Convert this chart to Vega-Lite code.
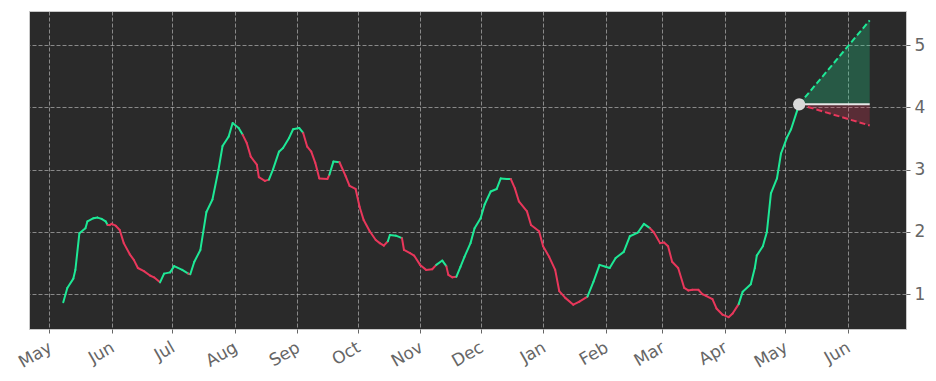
{
  "$schema": "https://vega.github.io/schema/vega-lite/v6.json",
  "width": 877,
  "height": 318,
  "autosize": {"type": "none"},
  "padding": {"left": 29, "top": 11, "right": 30, "bottom": 52},
  "background": "#ffffff",
  "config": {
    "view": {"fill": "#2a2a2a", "stroke": "#c8c8c8", "strokeWidth": 1},
    "axis": {
      "domain": false,
      "grid": true,
      "gridColor": "#c0c0c0",
      "gridDash": [4, 2],
      "gridWidth": 0.8,
      "gridOpacity": 0.8,
      "tickColor": "#666666",
      "tickSize": 4,
      "labelColor": "#666666",
      "labelFont": "DejaVu Sans",
      "labelFontSize": 17,
      "labelOverlap": false,
      "labelBound": false,
      "title": null
    }
  },
  "datasets": {
    "hist": [
      {"d": "2022-05-08", "v": 0.87, "t": "up"},
      {"d": "2022-05-10", "v": 1.10, "t": "up"},
      {"d": "2022-05-13", "v": 1.25, "t": "up"},
      {"d": "2022-05-14", "v": 1.39, "t": "up"},
      {"d": "2022-05-16", "v": 1.98, "t": "up"},
      {"d": "2022-05-19", "v": 2.06, "t": "up"},
      {"d": "2022-05-20", "v": 2.17, "t": "up"},
      {"d": "2022-05-23", "v": 2.22, "t": "up"},
      {"d": "2022-05-25", "v": 2.23, "t": "up"},
      {"d": "2022-05-27", "v": 2.21, "t": "up"},
      {"d": "2022-05-29", "v": 2.17, "t": "up"},
      {"d": "2022-05-30", "v": 2.11, "t": "up"},
      {"d": "2022-05-31", "v": 2.11, "t": "down"},
      {"d": "2022-06-01", "v": 2.13, "t": "down"},
      {"d": "2022-06-03", "v": 2.10, "t": "down"},
      {"d": "2022-06-05", "v": 2.03, "t": "down"},
      {"d": "2022-06-07", "v": 1.82, "t": "down"},
      {"d": "2022-06-10", "v": 1.64, "t": "down"},
      {"d": "2022-06-12", "v": 1.55, "t": "down"},
      {"d": "2022-06-14", "v": 1.42, "t": "down"},
      {"d": "2022-06-17", "v": 1.37, "t": "down"},
      {"d": "2022-06-20", "v": 1.30, "t": "down"},
      {"d": "2022-06-22", "v": 1.27, "t": "down"},
      {"d": "2022-06-25", "v": 1.19, "t": "down"},
      {"d": "2022-06-27", "v": 1.33, "t": "up"},
      {"d": "2022-06-30", "v": 1.35, "t": "up"},
      {"d": "2022-07-02", "v": 1.45, "t": "up"},
      {"d": "2022-07-06", "v": 1.39, "t": "up"},
      {"d": "2022-07-09", "v": 1.33, "t": "up"},
      {"d": "2022-07-10", "v": 1.32, "t": "down"},
      {"d": "2022-07-12", "v": 1.52, "t": "up"},
      {"d": "2022-07-15", "v": 1.71, "t": "up"},
      {"d": "2022-07-18", "v": 2.32, "t": "up"},
      {"d": "2022-07-21", "v": 2.52, "t": "up"},
      {"d": "2022-07-24", "v": 3.00, "t": "up"},
      {"d": "2022-07-26", "v": 3.38, "t": "up"},
      {"d": "2022-07-29", "v": 3.53, "t": "up"},
      {"d": "2022-07-31", "v": 3.75, "t": "up"},
      {"d": "2022-08-03", "v": 3.67, "t": "up"},
      {"d": "2022-08-05", "v": 3.56, "t": "up"},
      {"d": "2022-08-07", "v": 3.43, "t": "down"},
      {"d": "2022-08-09", "v": 3.21, "t": "down"},
      {"d": "2022-08-12", "v": 3.08, "t": "down"},
      {"d": "2022-08-13", "v": 2.88, "t": "down"},
      {"d": "2022-08-16", "v": 2.82, "t": "down"},
      {"d": "2022-08-18", "v": 2.84, "t": "down"},
      {"d": "2022-08-20", "v": 3.00, "t": "up"},
      {"d": "2022-08-23", "v": 3.29, "t": "up"},
      {"d": "2022-08-25", "v": 3.35, "t": "up"},
      {"d": "2022-08-28", "v": 3.51, "t": "up"},
      {"d": "2022-08-30", "v": 3.65, "t": "up"},
      {"d": "2022-09-02", "v": 3.67, "t": "up"},
      {"d": "2022-09-04", "v": 3.59, "t": "up"},
      {"d": "2022-09-06", "v": 3.37, "t": "down"},
      {"d": "2022-09-08", "v": 3.29, "t": "down"},
      {"d": "2022-09-10", "v": 3.11, "t": "down"},
      {"d": "2022-09-12", "v": 2.86, "t": "down"},
      {"d": "2022-09-16", "v": 2.85, "t": "down"},
      {"d": "2022-09-17", "v": 2.92, "t": "down"},
      {"d": "2022-09-19", "v": 3.13, "t": "up"},
      {"d": "2022-09-22", "v": 3.12, "t": "up"},
      {"d": "2022-09-25", "v": 2.90, "t": "down"},
      {"d": "2022-09-27", "v": 2.74, "t": "down"},
      {"d": "2022-09-30", "v": 2.69, "t": "down"},
      {"d": "2022-10-02", "v": 2.40, "t": "down"},
      {"d": "2022-10-04", "v": 2.19, "t": "down"},
      {"d": "2022-10-07", "v": 2.01, "t": "down"},
      {"d": "2022-10-10", "v": 1.87, "t": "down"},
      {"d": "2022-10-12", "v": 1.82, "t": "down"},
      {"d": "2022-10-14", "v": 1.78, "t": "down"},
      {"d": "2022-10-16", "v": 1.85, "t": "down"},
      {"d": "2022-10-17", "v": 1.95, "t": "up"},
      {"d": "2022-10-20", "v": 1.94, "t": "up"},
      {"d": "2022-10-23", "v": 1.90, "t": "up"},
      {"d": "2022-10-24", "v": 1.71, "t": "down"},
      {"d": "2022-10-27", "v": 1.66, "t": "down"},
      {"d": "2022-10-29", "v": 1.62, "t": "down"},
      {"d": "2022-11-01", "v": 1.47, "t": "down"},
      {"d": "2022-11-04", "v": 1.39, "t": "down"},
      {"d": "2022-11-07", "v": 1.40, "t": "down"},
      {"d": "2022-11-09", "v": 1.47, "t": "down"},
      {"d": "2022-11-12", "v": 1.54, "t": "up"},
      {"d": "2022-11-14", "v": 1.45, "t": "up"},
      {"d": "2022-11-15", "v": 1.31, "t": "down"},
      {"d": "2022-11-17", "v": 1.27, "t": "down"},
      {"d": "2022-11-19", "v": 1.28, "t": "down"},
      {"d": "2022-11-21", "v": 1.44, "t": "up"},
      {"d": "2022-11-23", "v": 1.60, "t": "up"},
      {"d": "2022-11-26", "v": 1.82, "t": "up"},
      {"d": "2022-11-28", "v": 2.06, "t": "up"},
      {"d": "2022-12-01", "v": 2.22, "t": "up"},
      {"d": "2022-12-03", "v": 2.44, "t": "up"},
      {"d": "2022-12-06", "v": 2.65, "t": "up"},
      {"d": "2022-12-09", "v": 2.69, "t": "up"},
      {"d": "2022-12-11", "v": 2.86, "t": "up"},
      {"d": "2022-12-14", "v": 2.85, "t": "up"},
      {"d": "2022-12-16", "v": 2.85, "t": "up"},
      {"d": "2022-12-18", "v": 2.70, "t": "down"},
      {"d": "2022-12-20", "v": 2.49, "t": "down"},
      {"d": "2022-12-24", "v": 2.33, "t": "down"},
      {"d": "2022-12-26", "v": 2.11, "t": "down"},
      {"d": "2022-12-30", "v": 2.01, "t": "down"},
      {"d": "2023-01-01", "v": 1.77, "t": "down"},
      {"d": "2023-01-04", "v": 1.60, "t": "down"},
      {"d": "2023-01-07", "v": 1.39, "t": "down"},
      {"d": "2023-01-09", "v": 1.05, "t": "down"},
      {"d": "2023-01-12", "v": 0.94, "t": "down"},
      {"d": "2023-01-16", "v": 0.83, "t": "down"},
      {"d": "2023-01-19", "v": 0.88, "t": "down"},
      {"d": "2023-01-23", "v": 0.96, "t": "down"},
      {"d": "2023-01-26", "v": 1.20, "t": "up"},
      {"d": "2023-01-29", "v": 1.47, "t": "up"},
      {"d": "2023-02-01", "v": 1.44, "t": "up"},
      {"d": "2023-02-03", "v": 1.42, "t": "up"},
      {"d": "2023-02-06", "v": 1.58, "t": "up"},
      {"d": "2023-02-10", "v": 1.68, "t": "up"},
      {"d": "2023-02-13", "v": 1.93, "t": "up"},
      {"d": "2023-02-17", "v": 1.99, "t": "up"},
      {"d": "2023-02-20", "v": 2.13, "t": "up"},
      {"d": "2023-02-23", "v": 2.06, "t": "up"},
      {"d": "2023-02-25", "v": 1.99, "t": "down"},
      {"d": "2023-02-28", "v": 1.82, "t": "down"},
      {"d": "2023-03-02", "v": 1.83, "t": "down"},
      {"d": "2023-03-04", "v": 1.77, "t": "down"},
      {"d": "2023-03-06", "v": 1.52, "t": "down"},
      {"d": "2023-03-09", "v": 1.42, "t": "down"},
      {"d": "2023-03-12", "v": 1.10, "t": "down"},
      {"d": "2023-03-14", "v": 1.06, "t": "down"},
      {"d": "2023-03-16", "v": 1.07, "t": "down"},
      {"d": "2023-03-19", "v": 1.07, "t": "down"},
      {"d": "2023-03-21", "v": 1.00, "t": "down"},
      {"d": "2023-03-23", "v": 0.97, "t": "down"},
      {"d": "2023-03-26", "v": 0.92, "t": "down"},
      {"d": "2023-03-28", "v": 0.77, "t": "down"},
      {"d": "2023-03-31", "v": 0.67, "t": "down"},
      {"d": "2023-04-03", "v": 0.63, "t": "down"},
      {"d": "2023-04-05", "v": 0.69, "t": "down"},
      {"d": "2023-04-08", "v": 0.84, "t": "down"},
      {"d": "2023-04-10", "v": 1.04, "t": "up"},
      {"d": "2023-04-14", "v": 1.16, "t": "up"},
      {"d": "2023-04-16", "v": 1.42, "t": "up"},
      {"d": "2023-04-17", "v": 1.62, "t": "up"},
      {"d": "2023-04-20", "v": 1.77, "t": "up"},
      {"d": "2023-04-22", "v": 2.00, "t": "up"},
      {"d": "2023-04-24", "v": 2.62, "t": "up"},
      {"d": "2023-04-27", "v": 2.86, "t": "up"},
      {"d": "2023-04-29", "v": 3.26, "t": "up"},
      {"d": "2023-05-02", "v": 3.52, "t": "up"},
      {"d": "2023-05-04", "v": 3.65, "t": "up"},
      {"d": "2023-05-07", "v": 3.95, "t": "up"},
      {"d": "2023-05-08", "v": 4.05, "t": "up"}
    ],
    "fc": [
      {"d": "2023-05-08", "base": 4.05, "hi": 4.05, "lo": 4.05},
      {"d": "2023-06-12", "base": 4.05, "hi": 5.40, "lo": 3.71}
    ],
    "last": [
      {"d": "2023-05-08", "v": 4.05}
    ]
  },
  "layer": [
    {
      "data": {"name": "hist", "format": {"parse": {"d": "date"}}},
      "transform": [
        {"window": [{"op": "lag", "field": "d", "as": "pd"}, {"op": "lag", "field": "v", "as": "pv"}], "sort": [{"field": "d"}]},
        {"filter": "datum.pv != null"}
      ],
      "mark": {"type": "rule", "strokeWidth": 2, "strokeCap": "round"},
      "encoding": {
        "x": {
          "field": "pd", "type": "temporal",
          "scale": {"type": "utc", "domain": [{"year": 2022, "month": 4, "date": 21, "utc": true}, {"year": 2023, "month": 6, "date": 30, "utc": true}]},
          "axis": {
            "values": [
              {"year": 2022, "month": 5, "date": 1, "utc": true},
              {"year": 2022, "month": 6, "date": 1, "utc": true},
              {"year": 2022, "month": 7, "date": 1, "utc": true},
              {"year": 2022, "month": 8, "date": 1, "utc": true},
              {"year": 2022, "month": 9, "date": 1, "utc": true},
              {"year": 2022, "month": 10, "date": 1, "utc": true},
              {"year": 2022, "month": 11, "date": 1, "utc": true},
              {"year": 2022, "month": 12, "date": 1, "utc": true},
              {"year": 2023, "month": 1, "date": 1, "utc": true},
              {"year": 2023, "month": 2, "date": 1, "utc": true},
              {"year": 2023, "month": 3, "date": 1, "utc": true},
              {"year": 2023, "month": 4, "date": 1, "utc": true},
              {"year": 2023, "month": 5, "date": 1, "utc": true},
              {"year": 2023, "month": 6, "date": 1, "utc": true}
            ],
            "labelExpr": "utcFormat(datum.value, '%b')",
            "labelAngle": -30,
            "labelAlign": "right",
            "labelBaseline": "top",
            "labelFontSize": 17,
            "labelPadding": 6,
            "labelOffset": -3
          }
        },
        "x2": {"field": "d"},
        "y": {
          "field": "pv", "type": "quantitative",
          "scale": {"domain": [0.44, 5.55], "nice": false, "zero": false},
          "axis": {"orient": "right", "values": [1, 2, 3, 4, 5], "format": "d", "labelFontSize": 17, "labelPadding": 4}
        },
        "y2": {"field": "v"},
        "color": {
          "field": "t", "type": "nominal",
          "scale": {"domain": ["up", "down"], "range": ["#1ee896", "#e8375b"]},
          "legend": null
        }
      }
    },
    {
      "data": {"name": "fc"},
      "mark": {"type": "area", "color": "#1ee896", "opacity": 0.25},
      "encoding": {
        "x": {"field": "d", "type": "temporal"},
        "y": {"field": "base", "type": "quantitative"},
        "y2": {"field": "hi"}
      }
    },
    {
      "data": {"name": "fc"},
      "mark": {"type": "area", "color": "#e8375b", "opacity": 0.25},
      "encoding": {
        "x": {"field": "d", "type": "temporal"},
        "y": {"field": "base", "type": "quantitative"},
        "y2": {"field": "lo"}
      }
    },
    {
      "data": {"name": "fc"},
      "mark": {"type": "line", "color": "#e6e6e6", "strokeWidth": 2},
      "encoding": {
        "x": {"field": "d", "type": "temporal"},
        "y": {"field": "base", "type": "quantitative"}
      }
    },
    {
      "data": {"name": "fc"},
      "mark": {"type": "line", "color": "#1ee896", "strokeWidth": 2, "strokeDash": [6, 3]},
      "encoding": {
        "x": {"field": "d", "type": "temporal"},
        "y": {"field": "hi", "type": "quantitative"}
      }
    },
    {
      "data": {"name": "fc"},
      "mark": {"type": "line", "color": "#e8375b", "strokeWidth": 2, "strokeDash": [6, 3]},
      "encoding": {
        "x": {"field": "d", "type": "temporal"},
        "y": {"field": "lo", "type": "quantitative"}
      }
    },
    {
      "data": {"name": "last"},
      "mark": {"type": "point", "filled": true, "color": "#d9d9d9", "opacity": 1, "size": 150},
      "encoding": {
        "x": {"field": "d", "type": "temporal"},
        "y": {"field": "v", "type": "quantitative"}
      }
    }
  ]
}
